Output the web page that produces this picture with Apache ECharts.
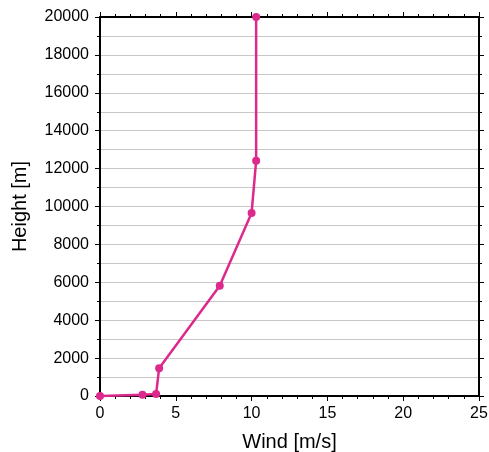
<!DOCTYPE html>
<html><head><meta charset="utf-8">
<script src="https://cdn.jsdelivr.net/npm/echarts@6/dist/echarts.min.js"></script>
<style>html,body{margin:0;padding:0;background:#fff}#c{width:489px;height:452px}</style>
</head><body><div id="c"></div>
<script>
const wind = [0, 2.8, 3.7, 3.9, 7.9, 10.0, 10.3, 10.3];
const height = [0, 60, 100, 1470, 5820, 9660, 12420, 20000];
const xTicks = [0, 5, 10, 15, 20, 25];
const yTicks = [0, 2000, 4000, 6000, 8000, 10000, 12000, 14000, 16000, 18000, 20000];

const color = '#dc2a8c';
const font = 'Liberation Sans, Arial, Helvetica, sans-serif';
const chart = echarts.init(document.getElementById('c'));
const axisCommon = {
  axisLine: {show: true, onZero: false, lineStyle: {color: '#000', width: 2}},
  axisTick: {show: true, inside: false, length: 5, lineStyle: {color: '#000', width: 1}},
};
chart.setOption({
  animation: false,
  grid: {left: 100, right: 10, top: 17, bottom: 56, containLabel: false, outerBoundsMode: 'none'},
  xAxis: [
    Object.assign({type: 'value', min: xTicks[0], max: xTicks[xTicks.length-1], interval: 5,
      name: 'Wind [m/s]', nameLocation: 'middle', nameGap: 36,
      nameTextStyle: {fontFamily: font, fontSize: 20, color: '#000'},
      axisLabel: {fontFamily: font, fontSize: 16, color: '#000', margin: 10, formatter: v => String(v)},
      splitLine: {show: false}}, axisCommon, {minorTick: {show: true, splitNumber: 5, length: 3, lineStyle: {color: '#000'}}}),
    Object.assign({type: 'value', position: 'top', min: 0, max: 25, interval: 5,
      axisLabel: {show: false}, splitLine: {show: false}}, axisCommon, {minorTick: {show: true, splitNumber: 5, length: 3, lineStyle: {color: '#000'}}})
  ],
  yAxis: [
    Object.assign({type: 'value', min: yTicks[0], max: yTicks[yTicks.length-1], interval: 2000,
      name: 'Height [m]', nameLocation: 'middle', nameGap: 70,
      nameTextStyle: {fontFamily: font, fontSize: 20, color: '#000'},
      axisLabel: {fontFamily: font, fontSize: 16, color: '#000', margin: 11, formatter: v => String(v)},
      splitLine: {show: true, lineStyle: {color: '#c8c8c8', width: 1}},
      minorSplitLine: {show: true, lineStyle: {color: '#c8c8c8', width: 1}}}, axisCommon, {minorTick: {show: true, splitNumber: 2, length: 3, lineStyle: {color: '#000'}}}),
    Object.assign({type: 'value', position: 'right', min: 0, max: 20000, interval: 2000,
      axisLabel: {show: false}, splitLine: {show: false}}, axisCommon, {minorTick: {show: true, splitNumber: 2, length: 3, lineStyle: {color: '#000'}}})
  ],
  series: [{
    type: 'line',
    data: wind.map((w, i) => [w, height[i]]),
    symbol: 'circle', symbolSize: 8,
    lineStyle: {color: color, width: 2.5},
    itemStyle: {color: color},
    clip: false
  }]
});
</script></body></html>
